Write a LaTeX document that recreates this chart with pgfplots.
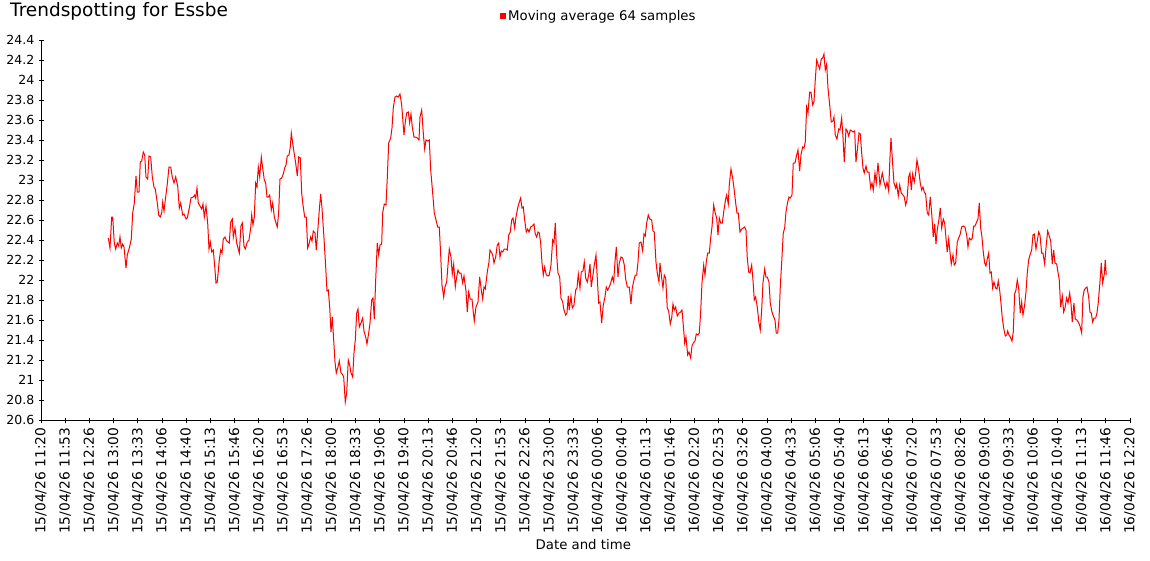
\documentclass[border=0pt]{standalone}
\usepackage{fontspec}
\setmainfont{DejaVu Sans}
\usepackage{pgfplots}
\pgfplotsset{compat=1.18}
\usepackage{pgfplotstable}
% px = horizontal position (41 = 15/04/26 11:20, 24.2 per 33 1/3 min tick)
\pgfplotstableread{
px temp
108.3 22.42
110 22.32
111.7 22.63
112.7 22.63
114.3 22.37
115.7 22.31
117.3 22.37
118.7 22.34
120 22.43
121.3 22.32
122.7 22.36
124 22.33
126 22.12
127.3 22.25
129.3 22.32
131.3 22.41
132.7 22.67
134.3 22.77
136 23.04
137.3 22.88
139 22.88
140.3 23.18
141.7 23.19
143.3 23.28
144.7 23.25
146 23.03
147.7 23.01
149 23.24
150.7 23.23
152.3 23.03
154 22.93
155.3 22.91
157.3 22.77
158.7 22.65
160.3 22.63
161.7 22.67
162.7 22.78
164 22.69
165.3 22.80
167.3 22.96
169 23.13
170.7 23.13
172.3 23.03
174 22.97
175.7 23.03
177.7 22.94
179.3 22.72
180.7 22.77
182.7 22.65
184 22.66
186 22.61
187.3 22.62
189.3 22.72
191 22.82
193.3 22.83
194.7 22.85
195.7 22.82
197 22.92
198.3 22.77
200 22.74
201.7 22.71
203 22.76
204.3 22.63
206 22.74
207.7 22.57
209 22.31
210.3 22.38
211.7 22.28
213.3 22.30
214.7 22.14
216 21.97
217.3 21.98
219.3 22.20
220.7 22.30
222 22.27
223.3 22.41
225 22.43
226.7 22.39
229.3 22.37
230.7 22.58
232.3 22.61
233.3 22.43
235 22.52
236.7 22.37
239.3 22.27
241 22.54
242.3 22.57
244 22.34
245.3 22.31
247.3 22.38
249 22.40
250.7 22.52
251.7 22.65
253 22.55
254.3 22.63
255.7 22.97
257 22.93
258.3 23.13
259.7 23.03
261.3 23.23
262.7 23.12
264.3 23.00
265.7 22.97
267 22.83
268.3 22.83
269.7 22.85
271.3 22.70
272.7 22.77
274.3 22.63
276 22.57
277.3 22.53
278.7 22.68
280 23.01
281.7 23.02
283.3 23.06
284.7 23.12
286 23.15
287.3 23.24
289 23.25
290.3 23.33
291.3 23.47
292.7 23.37
294 23.28
295.7 23.17
297.3 23.04
298.7 23.23
300.3 23.22
301.7 22.87
303 22.75
304.7 22.63
306.3 22.63
307.7 22.32
309.3 22.37
310.7 22.43
312 22.39
313.3 22.49
315 22.47
316.3 22.30
318 22.52
319.3 22.70
320.7 22.86
322 22.72
324 22.42
325.7 22.13
327 21.89
328.3 21.90
329.7 21.73
331 21.48
332.3 21.63
333.7 21.40
335 21.18
336.3 21.07
338 21.13
339.3 21.19
341 21.07
342.3 21.06
343.7 21.03
345.3 20.78
346.7 20.87
348.3 21.20
349.7 21.15
351 21.07
352.7 21.03
354 21.27
355.3 21.40
356.7 21.67
358 21.71
359.3 21.53
361 21.57
362.7 21.62
364 21.49
365.7 21.43
367 21.36
368.7 21.47
370 21.57
371.7 21.80
373 21.82
374.3 21.61
375.7 22.00
377.3 22.37
378.7 22.25
380 22.35
381.7 22.36
382.7 22.67
384.3 22.76
386 22.75
387.3 23.02
388.7 23.37
390.7 23.42
392 23.52
393.3 23.72
395 23.83
396.7 23.84
398.3 23.83
400 23.86
401.7 23.75
403 23.58
404 23.45
405.3 23.58
406.7 23.67
408.3 23.68
409.7 23.57
411 23.66
412.3 23.53
414 23.43
415.7 23.43
417.3 23.42
419 23.40
420 23.63
421.7 23.70
423.3 23.47
424.7 23.31
426 23.40
427.7 23.39
429.3 23.40
430.7 23.10
432.7 22.87
434.3 22.67
436 22.60
437.7 22.53
439.3 22.53
440.7 22.25
442 21.95
443.7 21.83
445 21.93
446.7 21.98
448 22.15
449.3 22.31
451 22.23
452.3 22.06
453.7 22.16
455.3 21.93
456.7 22.03
458 22.10
459.3 22.07
461 22.07
462.7 21.97
464 22.04
466 21.89
467.3 21.68
468.7 21.88
470.3 21.81
472 21.81
473.3 21.68
474.3 21.59
476 21.73
478 21.78
479.7 22.03
481.3 21.90
482.7 21.81
484 21.93
485.3 21.91
487.3 22.08
489 22.18
490 22.30
491.3 22.28
492.7 22.25
494 22.17
495.7 22.23
497.3 22.35
498.7 22.37
500 22.23
501.3 22.29
502.7 22.28
504.3 22.31
506 22.31
507.3 22.30
508.7 22.45
510.3 22.48
511.7 22.60
513 22.62
514.7 22.52
516 22.63
517.7 22.72
519 22.77
520.7 22.82
522 22.72
523.3 22.73
524.7 22.60
526.3 22.48
527.7 22.51
529 22.48
530.7 22.53
532.3 22.54
534 22.56
535.3 22.46
536.7 22.43
538 22.48
539.3 22.47
540.7 22.37
542 22.17
543.3 22.05
544.7 22.13
546.3 22.05
548 22.04
549.3 22.05
551 22.15
552.7 22.40
554 22.37
555.3 22.57
556.7 22.25
558 22.07
559.7 22.03
561 21.82
562.7 21.78
564 21.70
565.7 21.65
567 21.67
568.3 21.84
569.3 21.70
571 21.84
572.3 21.72
574 21.75
575.7 21.90
577 21.92
578.3 22.06
580 21.92
581.3 22.08
583 22.09
584.3 22.18
585.7 22.02
587.3 21.98
588.7 22.05
590 22.16
591.3 21.93
593 22.05
594.3 22.15
596 22.25
597.3 22.02
598.7 21.77
600 21.78
601.7 21.57
603.3 21.75
605 21.83
606.3 21.93
607.7 21.90
609.3 21.93
610.7 21.97
612.3 22.03
613.7 21.98
615 22.18
616.3 22.33
618 22.03
619.3 22.17
621 22.23
622.7 22.22
624.3 22.15
625.7 22.01
627.3 21.93
629.3 21.93
631 21.76
632.3 21.92
634 22.00
635.3 22.05
636.7 22.05
638 22.18
639.3 22.37
641 22.38
642.7 22.29
644 22.46
645.3 22.44
646.7 22.57
648.3 22.65
649.7 22.61
651.7 22.60
653 22.49
654.3 22.48
656 22.18
657.3 22.07
659 21.98
660 22.17
661.7 22.02
663 21.92
664.3 22.05
665.7 22.02
667.3 21.72
668.7 21.69
670.3 21.56
671.7 21.62
673 21.76
674.3 21.70
675.7 21.73
677.3 21.64
679 21.67
680.7 21.68
682 21.70
683.3 21.55
684.7 21.37
686 21.43
687.7 21.25
689 21.28
690.7 21.22
692 21.34
693.3 21.37
695 21.39
696.3 21.46
698 21.45
699.3 21.47
700.7 21.68
702 21.97
703.7 22.15
705 22.05
706.3 22.18
707.7 22.27
709.3 22.27
710.7 22.42
712 22.53
713.7 22.75
715 22.68
716.7 22.62
718 22.45
719.3 22.62
720.7 22.57
722.3 22.57
724 22.70
725.7 22.81
726.7 22.85
728.3 22.76
729.3 22.95
731 23.11
732.7 23.02
734 22.92
735.7 22.77
737 22.67
738.3 22.67
740 22.48
741.7 22.51
743.3 22.52
744.7 22.53
746 22.50
747.3 22.22
748.7 22.08
750 22.07
751.7 22.15
753 22.00
754.3 21.80
755.7 21.83
757.3 21.73
759 21.57
760.3 21.50
761.7 21.70
763 21.97
764.7 22.11
766 22.03
767.3 22.03
769 21.98
770.3 21.77
772 21.68
773.7 21.63
775 21.60
776.3 21.47
777.7 21.47
779 21.60
780.3 21.93
782 22.23
783.3 22.47
784.7 22.52
786 22.68
787.7 22.78
789 22.83
790.3 22.82
792 22.85
793.3 23.17
795 23.17
796.7 23.25
798 23.30
799.7 23.09
801 23.25
802.7 23.33
804 23.32
805.3 23.38
806.7 23.73
808 23.67
809.7 23.88
811 23.88
812.7 23.75
814 23.78
815.3 24.00
816.7 24.20
818.3 24.15
819.7 24.11
821.3 24.21
822.7 24.22
824 24.26
825.3 24.10
826.7 24.16
828 23.92
829.7 23.75
831.3 23.58
833 23.59
834 23.63
835.3 23.45
837 23.41
838.7 23.51
840 23.50
841.7 23.62
843 23.43
844.3 23.18
846 23.51
847.3 23.49
848.7 23.44
850.3 23.50
852 23.49
853.3 23.48
854.7 23.49
856 23.18
857.7 23.33
859 23.47
860.3 23.46
861.7 23.27
863 23.12
864.3 23.07
866 23.14
867.3 23.08
869 23.08
870.7 22.92
872 22.97
873.3 22.90
875 23.07
876.3 22.97
878 23.17
879.3 23.03
880 22.95
882.3 23.07
884 22.98
885.7 22.92
887 22.98
888.7 22.89
890 23.23
891 23.42
892.3 23.22
894 22.97
895.7 22.92
896.7 22.96
898.3 22.84
899.7 22.95
901.3 22.87
903 22.85
904.3 22.83
905.7 22.75
907 22.80
908.7 23.03
910 23.07
911.3 22.90
912.7 23.06
914.3 22.98
915.7 23.07
917 23.20
918.7 23.10
920.3 22.97
921.7 22.90
923 22.93
924.3 22.88
925.7 22.86
927.3 22.67
928.7 22.65
930.3 22.83
931.7 22.67
933.3 22.43
934.7 22.56
936 22.36
937.3 22.50
939 22.61
940.3 22.72
941.7 22.52
943.3 22.61
944.7 22.57
946 22.42
947.3 22.28
948.7 22.41
950 22.28
951.3 22.16
953 22.25
954.3 22.15
955.7 22.17
957.3 22.38
958.7 22.42
960 22.45
961.7 22.53
963.3 22.54
965 22.53
966.7 22.45
968 22.33
969.3 22.42
971 22.40
972.3 22.42
973.7 22.54
975 22.54
976.7 22.58
978 22.61
979.3 22.77
980.7 22.52
982 22.43
983.3 22.28
984.7 22.17
986 22.14
987.3 22.21
988.7 22.27
990 22.07
991.3 22.08
992.7 21.92
994 21.98
995.7 21.92
997 21.91
998.3 21.99
999.7 21.90
1001 21.77
1002.3 21.62
1003.7 21.52
1005.3 21.44
1006.7 21.45
1007.7 21.49
1009 21.45
1010.3 21.43
1012 21.39
1013.3 21.48
1014.7 21.86
1016 21.90
1017.3 22.00
1018.7 21.92
1020.3 21.67
1021.7 21.78
1023 21.65
1024.7 21.75
1026 21.88
1027.3 22.07
1028.7 22.20
1030 22.25
1031.7 22.30
1033 22.45
1034.3 22.46
1036 22.31
1037.3 22.39
1038.7 22.48
1040 22.45
1041.7 22.27
1043 22.27
1044.7 22.16
1046.3 22.35
1047.7 22.49
1049.3 22.44
1050.7 22.39
1052.3 22.16
1053.7 22.30
1055 22.17
1056.7 22.16
1058 22.08
1059.3 22.00
1060.7 21.73
1062.3 21.84
1063.7 21.68
1065 21.72
1066.7 21.82
1068 21.77
1069.7 21.87
1071 21.77
1072.3 21.58
1074 21.77
1075.3 21.61
1077 21.60
1078.3 21.58
1080 21.54
1081.7 21.47
1083 21.83
1084.3 21.90
1085.7 21.92
1087 21.93
1088.7 21.83
1090 21.68
1091.3 21.67
1092.7 21.58
1094 21.62
1095.7 21.62
1097 21.67
1098.3 21.77
1100 21.98
1101.3 22.17
1102.7 21.97
1104.3 22.06
1105.3 22.20
1106.3 22.05
}\datatable

\newcommand{\yfont}{\fontsize{12.5}{13}\selectfont}
\newcommand{\xfont}{\fontsize{13.8}{14}\selectfont}
\newcommand{\lfont}{\fontsize{13.3}{14}\selectfont}

\begin{document}
\begin{tikzpicture}[x=1pt,y=1pt]
\useasboundingbox (0,0) rectangle (1150,-560);
\node[anchor=base west, inner sep=0pt, font=\fontsize{18.5}{20}\selectfont] at (10,-16.7) {Trendspotting for Essbe};
\begin{axis}[
  at={(41pt,-420pt)}, anchor=south west,
  scale only axis, width=1089pt, height=380pt,
  xmin=0, xmax=45, ymin=20.6, ymax=24.4,
  axis x line=bottom, axis y line=left,
  axis line style={-, black, line width=0.8pt},
  x filter/.expression={(x-41)/24.2},
  tick align=center, major tick length=5pt,
  tick style={black, line width=0.8pt},
  /pgf/number format/assume math mode=true,
  xtick={0,...,45},
  xticklabels={15/04/26 11:20,15/04/26 11:53,15/04/26 12:26,15/04/26 13:00,15/04/26 13:33,15/04/26 14:06,15/04/26 14:40,15/04/26 15:13,15/04/26 15:46,15/04/26 16:20,15/04/26 16:53,15/04/26 17:26,15/04/26 18:00,15/04/26 18:33,15/04/26 19:06,15/04/26 19:40,15/04/26 20:13,15/04/26 20:46,15/04/26 21:20,15/04/26 21:53,15/04/26 22:26,15/04/26 23:00,15/04/26 23:33,16/04/26 00:06,16/04/26 00:40,16/04/26 01:13,16/04/26 01:46,16/04/26 02:20,16/04/26 02:53,16/04/26 03:26,16/04/26 04:00,16/04/26 04:33,16/04/26 05:06,16/04/26 05:40,16/04/26 06:13,16/04/26 06:46,16/04/26 07:20,16/04/26 07:53,16/04/26 08:26,16/04/26 09:00,16/04/26 09:33,16/04/26 10:06,16/04/26 10:40,16/04/26 11:13,16/04/26 11:46,16/04/26 12:20},
  ytick={20.6,20.8,21,21.2,21.4,21.6,21.8,22,22.2,22.4,22.6,22.8,23,23.2,23.4,23.6,23.8,24,24.2,24.4},
  yticklabels={20.6,20.8,21,21.2,21.4,21.6,21.8,22,22.2,22.4,22.6,22.8,23,23.2,23.4,23.6,23.8,24,24.2,24.4},
  xticklabel shift=5pt, yticklabel shift=4pt,
  xticklabel style={rotate=90, anchor=east, inner sep=0pt, font=\xfont},
  yticklabel style={inner sep=0pt, font=\yfont},
  xlabel={Date and time},
  xlabel style={at={(axis description cs:0.498,-0.3395)}, anchor=base, inner sep=0pt, font=\lfont},
  legend style={at={(axis description cs:0.4215,1.063)}, anchor=west, draw=none, fill=none, inner sep=0pt, font=\lfont, legend cell align=left},
  legend image code/.code={\fill[red] (0pt,-2.5pt) rectangle (5pt,2.5pt);},
]
\addplot[red, line width=1pt, mark=none] table[x=px, y=temp] {\datatable};
\addlegendentry{Moving average 64 samples}
\end{axis}
\end{tikzpicture}
\end{document}
